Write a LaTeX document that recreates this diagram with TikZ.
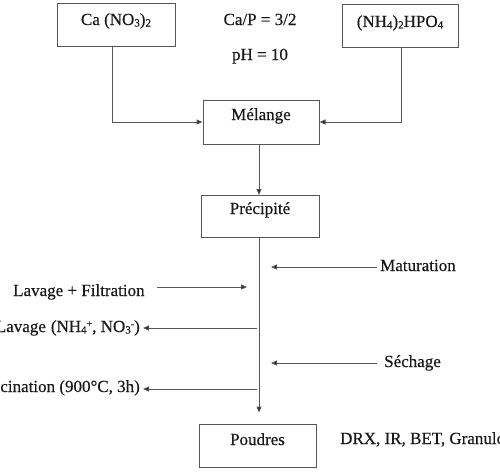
\documentclass[tikz,border=0pt]{standalone}
\usepackage{fontspec}
\setmainfont{Liberation Serif}[FakeBold=0.35]
\usetikzlibrary{arrows.meta,calc}
\definecolor{linegray}{RGB}{85,85,85}
\definecolor{ink}{RGB}{25,25,25}
\newcommand{\sbs}[1]{\raisebox{-1.5pt}{\fontsize{11}{11}\selectfont #1}}
\newcommand{\sps}[1]{\raisebox{5pt}{\fontsize{10}{10}\selectfont #1}}
\tikzset{
  box/.style={draw=linegray, line width=1pt, fill=white, inner sep=0pt},
  txt/.style={inner sep=0pt, text=ink, font=\fontsize{17}{20}\selectfont, anchor=base},
  arr/.style={draw=linegray, line width=1pt, -{Triangle[length=6pt,width=5pt,fill=ink]}},
  ln/.style={draw=linegray, line width=1pt}
}
\begin{document}
\begin{tikzpicture}[x=1pt,y=-1pt]
\useasboundingbox (0,0) rectangle (500,471);
\clip (0,0) rectangle (500,471);
\fill[white] (0,0) rectangle (500,471);
% boxes
\node[box, minimum width=118pt, minimum height=43pt] (ca) at (116,24.5) {};
\node[box, minimum width=116pt, minimum height=43pt] (nh) at (400,25.5) {};
\node[box, minimum width=116pt, minimum height=44pt] (mel) at (261,122) {};
\node[box, minimum width=118pt, minimum height=42pt] (pre) at (260,216.5) {};
\node[box, minimum width=117pt, minimum height=43pt] (pou) at (257.5,445.5) {};
% box texts
\node[txt] (caT) at (116,25) {Ca (NO\sbs{3})\sbs{2}};
\node[txt] (nhT) at (400,27) {(NH\sbs{4})\sbs{2}HPO\sbs{4}};
\node[txt] (melT) at (261,120) {Mélange};
\node[txt] (preT) at (260,214) {Précipité};
\node[txt] (pouT) at (257.5,445) {Poudres};
% free texts
\node[txt] (ratio) at (260,25) {Ca/P = 3/2};
\node[txt] (ph) at (260,60) {pH = 10};
\node[txt, anchor=base west] (mat) at (380,271) {Maturation};
\node[txt, anchor=base west] (lavF) at (13,296) {Lavage + Filtration};
\node[txt, anchor=base east] (lavN) at (140,332) {Lavage\hspace{5pt}(NH\sbs{4}\sps{+}, NO\sbs{3}\sps{-})};
\node[txt, anchor=base west] (sech) at (384,367) {Séchage};
\node[txt, anchor=base east] (calc) at (140,392) {Calcination (900°C, 3h)};
\node[txt, anchor=base west] (drx) at (340,444) {DRX, IR, BET, Granulométrie};
% helper coordinates
\coordinate (sp) at (259,0);
\coordinate (caL) at (112,0);
\coordinate (nhL) at (401,0);
\coordinate (matY) at (0,267);
\coordinate (lfY) at (0,287);
\coordinate (lnY) at (0,328);
\coordinate (seY) at (0,363);
\coordinate (clY) at (0,389);
% connectors
\draw[arr] (ca.south -| caL) |- (mel.west);
\draw[arr] (nh.south -| nhL) |- (mel.east);
\draw[arr] (mel.south -| sp) -- (pre.north -| sp);
\draw[arr] (pre.south -| sp) -- ($(pou.north -| sp)+(0,-11)$);
\draw[arr] ($(mat.west |- matY)+(-3,0)$) -- ($(sp |- matY)+(12,0)$);
\draw[arr] ($(sech.west |- seY)+(-7,0)$) -- ($(sp |- seY)+(12,0)$);
\draw[arr] ($(lavF.east |- lfY)+(12,0)$) -- ($(sp |- lfY)+(-12,0)$);
\draw[arr] ($(sp |- lnY)+(-2,0)$) -- ($(lavN.east |- lnY)+(3,0)$);
\draw[arr] ($(sp |- clY)+(-2,0)$) -- ($(calc.east |- clY)+(3,0)$);
\end{tikzpicture}
\end{document}
